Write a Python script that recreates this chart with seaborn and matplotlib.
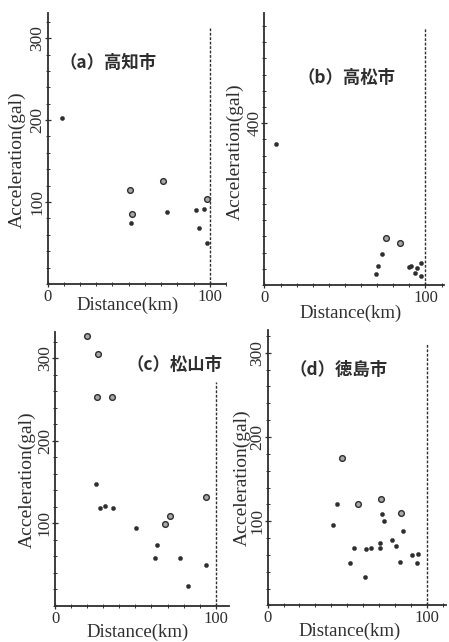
import matplotlib
matplotlib.use("Agg")
import matplotlib.pyplot as plt
import pandas as pd
import seaborn as sns
from matplotlib.ticker import MultipleLocator

# ---------------- data ----------------
a_dist = [8.7, 51.0, 51.8, 51.2, 70.9, 73.4, 91.8, 96.3, 98.0, 93.2, 98.0]
a_acc = [202, 114.6, 86, 74.8, 126, 88, 90, 92, 104, 68.7, 50]
a_type = ["dot", "circle", "circle", "dot", "circle", "dot", "dot", "dot", "circle", "dot", "dot"]

b_dist = [7.1, 75.2, 84.0, 72.7, 70.6, 69.2, 89.8, 91.3, 95.0, 97.5, 93.8, 97.5]
b_acc = [348, 116.8, 104.4, 75.8, 47, 26.4, 45, 47.7, 42.7, 53.6, 30, 23]
b_type = ["dot", "circle", "circle", "dot", "dot", "dot", "dot", "dot", "dot", "dot", "dot", "dot"]

c_dist = [20.1, 27.0, 26.0, 35.3, 25.5, 28.0, 31.1, 36.3, 50.4, 71.6, 68.4, 63.7, 62.2, 77.8, 82.6, 93.8, 94.0]
c_acc = [327, 304.7, 253, 253, 147, 119, 120.7, 118.6, 93.7, 109, 98.5, 73.5, 57.4, 58, 24, 49, 132]
c_type = ["circle", "circle", "circle", "circle", "dot", "dot", "dot", "dot", "dot", "circle", "circle",
          "dot", "dot", "dot", "dot", "dot", "circle"]

d_dist = [46.5, 43.8, 57.0, 71.3, 41.3, 71.7, 72.9, 83.8, 84.9, 78.0, 80.7, 70.8, 70.8, 54.5, 61.8,
          64.8, 52.0, 61.2, 83.2, 90.6, 94.8, 94.1]
d_acc = [174.8, 120, 121, 126, 95.6, 108, 100, 110, 88.5, 77.8, 70.3, 73.9, 68.7, 68.7, 66.7,
         68.7, 50, 33.8, 52, 60, 61, 50]
d_type = ["circle", "dot", "circle", "circle", "dot", "dot", "dot", "circle", "dot", "dot", "dot", "dot",
          "dot", "dot", "dot", "dot", "dot", "dot", "dot", "dot", "dot", "dot"]

titles = ["（a）高知市", "（b）高松市", "（c）松山市", "（d）徳島市"]
y_major = [[100, 200, 300], [400], [100, 200, 300], [100, 200, 300]]
y_minor_step = [20, 40, 20, 20]
y_max = [331, 672, 332, 327]
x_max = [110, 111.5, 108, 112]
x_major = [0, 100]
vline_x = 100
vline_top = [312, 635, 271, 311]
# ----------------------------------------------------------------

sns.set_style("ticks")
plt.rcParams["font.family"] = ["Liberation Serif", "Noto Sans CJK JP", "DejaVu Sans"]
INK = "#2e2e2e"

fig = plt.figure(figsize=(4.49, 6.42), dpi=100)

rects = [
    [0.1058, 0.5576, 0.3975, 0.4226],
    [0.5890, 0.5560, 0.3998, 0.4237],
    [0.1225, 0.0565, 0.3866, 0.4268],
    [0.5962, 0.0569, 0.3966, 0.4291],
]
title_pos = [(0.338, 0.815), (0.455, 0.761), (0.69, 0.878), (0.40, 0.855)]
ylab_pos = [(-0.121, 0.46), (-0.114, 0.489), (-0.110, 0.459), (-0.094, 0.463)]
xlab_pos = [(0.451, -0.047), (0.482, -0.074), (0.478, -0.067), (0.46, -0.063)]

data = [(a_dist, a_acc, a_type), (b_dist, b_acc, b_type),
        (c_dist, c_acc, c_type), (d_dist, d_acc, d_type)]

for i, (dist, acc, typ) in enumerate(data):
    ax = fig.add_axes(rects[i])
    df = pd.DataFrame({"Distance(km)": dist, "Acceleration(gal)": acc, "type": typ})
    dots = df[df["type"] == "dot"]
    circ = df[df["type"] == "circle"]
    sns.scatterplot(data=dots, x="Distance(km)", y="Acceleration(gal)", ax=ax,
                    color=INK, s=9, edgecolor=INK, linewidth=0.3, zorder=3)
    sns.scatterplot(data=circ, x="Distance(km)", y="Acceleration(gal)", ax=ax,
                    color="#a8a8a8", s=17, edgecolor=INK, linewidth=1.0, zorder=3)
    ax.plot([vline_x, vline_x], [0, vline_top[i]], color=INK, lw=1.0,
            linestyle=(0, (2, 1.2)), zorder=2)

    ax.set_xlim(0, x_max[i])
    ax.set_ylim(0, y_max[i])
    ax.set_xticks(x_major)
    ax.set_xticklabels([str(v) for v in x_major])
    ax.xaxis.set_minor_locator(MultipleLocator(10))
    ax.set_yticks(y_major[i])
    ax.set_yticklabels([str(v) for v in y_major[i]], rotation=90, va="center")
    ax.yaxis.set_minor_locator(MultipleLocator(y_minor_step[i]))
    ax.tick_params(axis="both", which="major", direction="inout", length=5, width=0.9,
                   colors=INK)
    ax.tick_params(axis="both", which="minor", direction="inout", length=3, width=0.7,
                   colors=INK)
    ax.tick_params(axis="x", labelsize=12, pad=1)
    ax.tick_params(axis="y", labelsize=12.5, pad=-1)
    sns.despine(ax=ax)
    for sp in ("left", "bottom"):
        ax.spines[sp].set_color(INK)
        ax.spines[sp].set_linewidth(1.3)

    ax.set_xlabel("Distance(km)", fontsize=13.5, color=INK)
    ax.set_ylabel("Acceleration(gal)", fontsize=14, color=INK)
    ax.xaxis.set_label_coords(*xlab_pos[i])
    ax.yaxis.set_label_coords(*ylab_pos[i])

    ax.text(title_pos[i][0], title_pos[i][1], titles[i], transform=ax.transAxes,
            ha="center", va="center", fontsize=12.5, color=INK, fontweight="bold",
            family=["Noto Sans CJK JP", "DejaVu Sans"])

fig.savefig("out.png", dpi=100)
